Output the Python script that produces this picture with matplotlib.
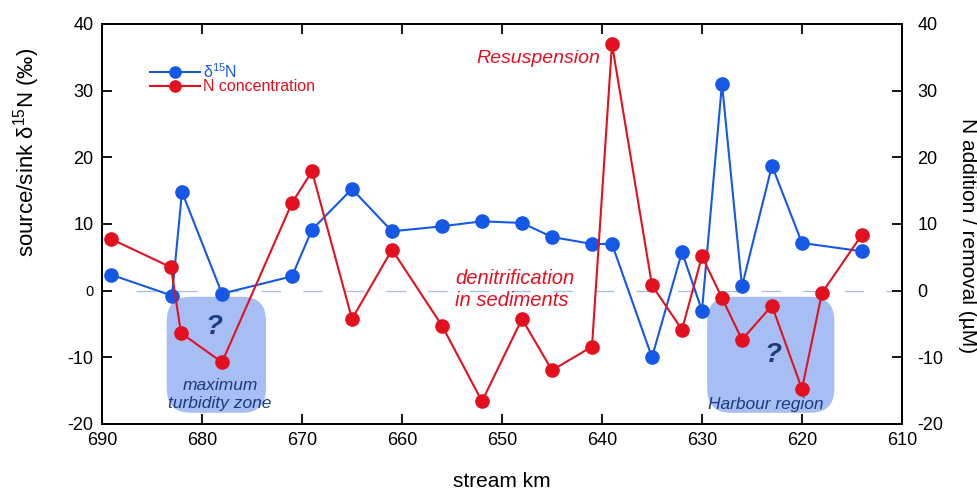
import matplotlib
matplotlib.use("Agg")
import matplotlib.pyplot as plt
from matplotlib.patches import FancyBboxPatch

plt.rcParams['font.family'] = ['Liberation Sans', 'DejaVu Sans']
plt.rcParams['mathtext.fontset'] = 'custom'
plt.rcParams['mathtext.rm'] = 'Liberation Sans'
plt.rcParams['mathtext.it'] = 'Liberation Sans:italic'
plt.rcParams['axes.unicode_minus'] = False

# données
km_d15n = [689.1, 683.0, 682.0, 678.0, 671.0, 669.0, 665.0, 661.0, 656.0, 652.0, 648.0,
           645.0, 641.0, 639.0, 635.0, 632.0, 630.0, 628.0, 626.0, 623.0, 620.0, 614.0]
d15n = [2.4, -0.75, 14.8, -0.45, 2.15, 9.15, 15.25, 8.9, 9.65, 10.4, 10.15,
        8.05, 7.0, 7.0, -10.0, 5.8, -3.0, 31.05, 0.65, 18.75, 7.15, 5.9]

km_nconc = [689.1, 683.1, 682.1, 678.0, 671.0, 669.0, 665.0, 661.0, 656.0, 652.0, 648.0,
            645.0, 641.0, 639.0, 635.0, 632.0, 630.0, 628.0, 626.0, 623.0, 620.0, 618.0, 614.0]
nconc = [7.75, 3.5, -6.35, -10.75, 13.15, 17.9, -4.25, 6.15, -5.25, -16.6, -4.25,
         -11.95, -8.4, 37.0, 0.8, -5.85, 5.15, -1.1, -7.35, -2.25, -14.75, -0.35, 8.4]

x_ticks = [690, 680, 670, 660, 650, 640, 630, 620, 610]
y_ticks = [-20, -10, 0, 10, 20, 30, 40]

blue = '#1558e6'
red = '#e3101f'
navy = '#1c3a80'
box_col = '#a6bef3'

fig = plt.figure(figsize=(9.77, 4.91), dpi=100)
ax = fig.add_axes([0.1044, 0.1365, 0.8188, 0.8147])
ax2 = ax.twinx()

ax.set_xlim(690, 610)
ax.set_ylim(-20, 40)
ax2.set_ylim(-20, 40)

# ligne zéro
ax.axhline(0, color='#a9bfe6', lw=1.0, dashes=(14, 16), xmin=0.043, xmax=0.99, zorder=1)

# zones "?" (boîtes arrondies)
for x0, y0, w, h in [(0.081, 0.028, 0.124, 0.29), (0.7565, 0.028, 0.159, 0.29)]:
    box = FancyBboxPatch((x0, y0), w, h, boxstyle="round,pad=0,rounding_size=0.03",
                         mutation_aspect=2, transform=ax.transAxes,
                         facecolor=box_col, edgecolor='none', zorder=0.5)
    ax.add_patch(box)

l1, = ax.plot(km_d15n, d15n, color=blue, lw=1.5, marker='o', ms=9.5, zorder=3,
              label='δ$^{15}$N')
l2, = ax2.plot(km_nconc, nconc, color=red, lw=1.5, marker='o', ms=9.5, zorder=3,
               label='N concentration')

ax.set_xticks(x_ticks)
ax.set_yticks(y_ticks)
ax2.set_yticks(y_ticks)
ax.tick_params(axis='both', direction='in', length=7, width=1.3, labelsize=13,
               top=True, right=False)
ax.tick_params(axis='x', pad=6)
ax.tick_params(axis='y', pad=6)
ax2.tick_params(axis='y', direction='in', length=7, width=1.3, labelsize=13, pad=11)
for lab in ax.get_yticklabels():
    if lab.get_text() == '0':
        lab.set_fontsize(10.5)
for a in (ax, ax2):
    for s in a.spines.values():
        s.set_linewidth(1.3)

ax.set_xlabel('stream km', fontsize=15, labelpad=16)
ax.set_ylabel('source/sink δ$^{15}$N (‰)', fontsize=16, va='center')
ax.yaxis.set_label_coords(-0.094, 0.678)
ax2.set_ylabel('N addition / removal (µM)', fontsize=15, rotation=270, va='center')
ax2.yaxis.set_label_coords(1.082, 0.47)

leg = ax2.legend(handles=[l1, l2], loc='upper left', bbox_to_anchor=(0.0425, 0.94),
                 frameon=False, fontsize=11.5, handlelength=3.1, handletextpad=0.2,
                 labelspacing=-0.1, labelcolor='linecolor', markerscale=0.85)

# annotations
ax2.text(640.2, 34.8, 'Resuspension', color=red, style='italic', fontsize=14,
         ha='right', va='center')
ax2.text(654.7, 0.2, 'denitrification\nin sediments', color=red, style='italic',
         fontsize=14.5, ha='left', va='center', linespacing=1.2)
ax2.text(678.8, -5.4, '?', color=navy, fontsize=20, fontweight='bold', style='italic',
         ha='center', va='center')
ax2.text(678.2, -15.6, 'maximum\nturbidity zone', color=navy, style='italic',
         fontsize=12.5, ha='center', va='center', linespacing=1.2)
ax2.text(622.9, -9.6, '?', color=navy, fontsize=20, fontweight='bold', style='italic',
         ha='center', va='center')
ax2.text(623.6, -17.1, 'Harbour region', color=navy, style='italic',
         fontsize=12.5, ha='center', va='center')

fig.savefig('out.png', dpi=100)
